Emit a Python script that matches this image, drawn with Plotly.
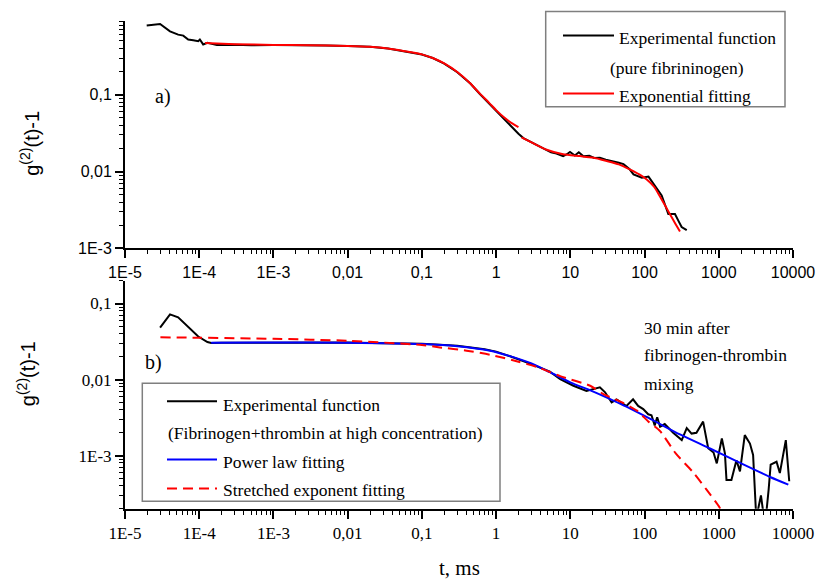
import plotly.graph_objects as go

# ---------------- data ----------------
# panel a) pure fibrinogen
t_a_exp = [1.96e-5, 2.97e-5, 4.04e-5, 5.2e-5, 6.1e-5, 7.1e-5, 8.3e-5, 9.7e-5, 1.02e-4, 1.13e-4,
           1.29e-4, 1.73e-4, 3e-4, 5e-4, 1e-3, 2e-3, 5e-3, 0.01, 0.02, 0.035, 0.05, 0.075, 0.1,
           0.14, 0.2, 0.3, 0.45, 0.6, 0.8, 1.0, 1.3, 1.6, 2.0, 2.33, 3.16, 4.8, 5.5, 6.5, 8.0, 9.0,
           9.9, 11.5, 13, 15, 18, 21, 25, 30, 38, 45, 52, 63, 71, 92, 113, 146, 170, 209, 257,
           285, 316, 370]
g_a_exp = [0.797, 0.83, 0.667, 0.605, 0.587, 0.522, 0.512, 0.497, 0.522, 0.451,
           0.474, 0.442, 0.448, 0.44, 0.443, 0.436, 0.436, 0.43, 0.42, 0.40, 0.376, 0.354, 0.334,
           0.30, 0.254, 0.196, 0.14, 0.103, 0.077, 0.061, 0.047, 0.039, 0.031, 0.0273, 0.0235,
           0.0188, 0.0178, 0.0172, 0.0159, 0.0168, 0.018, 0.0162, 0.0178, 0.0158, 0.0160, 0.0150,
           0.0151, 0.0143, 0.0137, 0.0130, 0.0125, 0.0107, 0.0092, 0.0083, 0.0086, 0.0059, 0.0049,
           0.0028, 0.0028, 0.0023, 0.0019, 0.00173]

t_a_fit1 = [1.2e-4, 3e-4, 1e-3, 3e-3, 0.01, 0.02, 0.035, 0.05, 0.075, 0.1, 0.14, 0.2, 0.3, 0.45,
            0.6, 0.8, 1.0, 1.3, 1.6, 2.0]
g_a_fit1 = [0.47, 0.455, 0.445, 0.44, 0.43, 0.42, 0.40, 0.378, 0.355, 0.335, 0.30, 0.255, 0.197,
            0.14, 0.104, 0.079, 0.063, 0.05, 0.043, 0.038]

t_a_fit2 = [2.2, 3, 4.8, 8, 13.5, 20, 31, 45, 63, 85, 107, 135, 162, 190, 219, 260, 300]
g_a_fit2 = [0.0279, 0.024, 0.0192, 0.0168, 0.0159, 0.0152, 0.0137, 0.0124, 0.0107, 0.0092,
            0.0079, 0.0063, 0.0047, 0.0036, 0.0028, 0.0021, 0.00166]

# panel b) fibrinogen + thrombin
t_b_exp = [2.97e-5, 4.04e-5, 5.2e-5, 9.7e-5, 1.29e-4, 1.45e-4, 2e-4, 5e-4, 1e-3, 3e-3, 0.01, 0.03,
           0.1, 0.3, 0.7, 1.0, 1.54, 2.86, 5.3, 7.3, 8.9, 11, 16.5, 20.4, 25, 29.4, 36, 42, 49,
           57, 70, 82, 96, 112, 124, 137, 148, 162, 187, 243, 317, 370, 430, 500, 615, 720, 850,
           940, 1100, 1210, 1270, 1480, 1730, 1930, 2240, 2630, 2900, 3200, 3700, 4200, 4700,
           5000, 6000, 6650, 8000, 8900]
g_b_exp = [0.0482, 0.072, 0.0658, 0.0368, 0.0312, 0.0302, 0.0304, 0.0305, 0.031, 0.0308, 0.0308, 0.030,
           0.0295, 0.0278, 0.0250, 0.0233, 0.0203, 0.0162, 0.0127, 0.0101, 0.0091, 0.0083, 0.0071, 0.0075,
           0.0079, 0.0068, 0.0050, 0.0055, 0.0050, 0.0045, 0.0055, 0.0045, 0.0041, 0.0035, 0.0034,
           0.0025, 0.0032, 0.0024, 0.0026, 0.0020, 0.0016, 0.0023, 0.00195, 0.0020, 0.0028, 0.00125,
           0.0011, 0.00079, 0.00168, 0.00107, 0.00048, 0.00048, 0.00087, 0.00062, 0.00186, 0.00144,
           0.00102, 0.00015, 0.0003, 0.00012, 0.00036, 0.00076, 0.00083, 0.00059, 0.0016, 0.00046]

t_b_pow = [1.45e-4, 1e-3, 0.01, 0.1, 0.3, 0.83, 1.5, 3, 5.3, 10, 20, 38, 57, 131, 300, 762, 2000, 5000, 8650]
g_b_pow = [0.0305, 0.0308, 0.0305, 0.0293, 0.0275, 0.024, 0.0205, 0.0163, 0.0125, 0.0092, 0.0070,
           0.0053, 0.0044, 0.0029, 0.0019, 0.00124, 0.00079, 0.00052, 0.000415]

t_b_str = [3e-5, 1e-4, 1e-3, 0.01, 0.1, 0.175, 0.4, 0.83, 2, 3.8, 7.3, 18.5, 27.5, 50, 79, 113, 162,
           263, 460, 680, 1020, 1150]
g_b_str = [0.036, 0.0355, 0.0344, 0.0324, 0.0285, 0.0265, 0.024, 0.0212, 0.0172, 0.0143, 0.0111,
           0.0083, 0.0065, 0.0050, 0.0039, 0.0028, 0.0021, 0.00107, 0.00059, 0.00036, 0.00021, 0.00017]

x_tickvals = [1e-5, 1e-4, 1e-3, 1e-2, 1e-1, 1, 10, 100, 1000, 10000]
x_ticktext = ["1E-5", "1E-4", "1E-3", "0,01", "0,1", "1", "10", "100", "1000", "10000"]
y_tickvals = [1e-3, 1e-2, 1e-1]
y_ticktext = ["1E-3", "0,01", "0,1"]

# ---------------- layout helpers ----------------
W, H = 819, 588
L, R = 125, 26
PW = W - L - R


def px(x):
    return (x - L) / PW


def py(y):
    return 1 - y / H


SANS = "Liberation Sans"
SERIF = "Liberation Serif"

minor_x = [m * 10 ** e for e in range(-5, 4) for m in range(2, 10)]
minor_y = [m * 10 ** e for e in range(-4, 0) for m in range(2, 10)]

fig = go.Figure()
fig.add_trace(go.Scatter(x=t_a_exp, y=g_a_exp, mode="lines", line=dict(color="black", width=2),
                         xaxis="x", yaxis="y", showlegend=False))
fig.add_trace(go.Scatter(x=t_a_fit1, y=g_a_fit1, mode="lines", line=dict(color="#ff0000", width=2, shape="spline", smoothing=0.6),
                         xaxis="x", yaxis="y", showlegend=False))
fig.add_trace(go.Scatter(x=t_a_fit2, y=g_a_fit2, mode="lines", line=dict(color="#ff0000", width=2, shape="spline", smoothing=0.6),
                         xaxis="x", yaxis="y", showlegend=False))
fig.add_trace(go.Scatter(x=t_b_exp, y=g_b_exp, mode="lines", line=dict(color="black", width=2),
                         xaxis="x2", yaxis="y2", showlegend=False))
fig.add_trace(go.Scatter(x=t_b_pow, y=g_b_pow, mode="lines", line=dict(color="#0000ff", width=2, shape="spline", smoothing=0.6),
                         xaxis="x2", yaxis="y2", showlegend=False))
fig.add_trace(go.Scatter(x=t_b_str, y=g_b_str, mode="lines",
                         line=dict(color="#ff0000", width=2, dash="10px,6px", shape="spline", smoothing=0.6),
                         xaxis="x2", yaxis="y2", showlegend=False))


def xax(font, anchor):
    return dict(type="log", range=[-5, 4], domain=[0, 1], anchor=anchor,
                tickmode="array", tickvals=x_tickvals, ticktext=x_ticktext,
                ticks="outside", ticklen=8, tickwidth=1.5, tickcolor="black",
                minor=dict(tickmode="array", tickvals=minor_x, ticks="outside", ticklen=4,
                           tickwidth=1.2, tickcolor="black", showgrid=False),
                showline=True, linecolor="black", linewidth=2, showgrid=False, zeroline=False,
                tickfont=font)


def yax(font, rng, dom, anchor):
    return dict(type="log", range=rng, domain=dom, anchor=anchor,
                tickmode="array", tickvals=y_tickvals, ticktext=y_ticktext,
                ticks="outside", ticklen=8, tickwidth=1.5, tickcolor="black",
                minor=dict(tickmode="array", tickvals=minor_y, ticks="outside", ticklen=4,
                           tickwidth=1.2, tickcolor="black", showgrid=False),
                showline=True, linecolor="black", linewidth=2, showgrid=False, zeroline=False,
                tickfont=font)


font_sans = dict(family=SANS, size=16, color="black")
font_serif = dict(family=SERIF, size=17, color="black")

fig.update_layout(
    width=W, height=H, margin=dict(l=L, r=R, t=0, b=0),
    paper_bgcolor="white", plot_bgcolor="white",
    showlegend=False,
    font=dict(family=SERIF),
    xaxis=xax(font_sans, "y"),
    yaxis=yax(font_sans, [-3, -0.0458], [py(252.3), py(21.7)], "x"),
    xaxis2=xax(font_serif, "y2"),
    yaxis2=yax(font_serif, [-3.699, -0.699], [py(516.7), py(285)], "x2"),
)

ann = []
shapes = []
LEG = dict(family=SERIF, size=17.5, color="black")


def text(x, y, s, font, xanchor="left", angle=0):
    ann.append(dict(x=px(x), y=py(y), xref="paper", yref="paper", text=s, showarrow=False,
                    xanchor=xanchor, yanchor="middle", font=font, textangle=angle))


def seg(x0, x1, y, color, dash="solid"):
    shapes.append(dict(type="line", xref="paper", yref="paper", x0=px(x0), x1=px(x1),
                       y0=py(y), y1=py(y), line=dict(color=color, width=2, dash=dash)))


def box(x0, y0, x1, y1):
    shapes.append(dict(type="rect", xref="paper", yref="paper", x0=px(x0), x1=px(x1),
                       y0=py(y1), y1=py(y0), line=dict(color="#7f7f7f", width=1.5),
                       fillcolor="white", layer="above"))


# y titles
TITLE = dict(family=SANS, size=20, color="black")
text(30, 145, "g<sup>(2)</sup>(t)-1", TITLE, xanchor="center", angle=-90)
text(26, 380, "g<sup>(2)</sup>(t)-1", TITLE, xanchor="center", angle=-90)
# x title
text(459, 577, "t, ms", dict(family=SERIF, size=21, color="black"), xanchor="center")

# panel labels
text(163, 98, "a)", dict(family=SERIF, size=20, color="black"), xanchor="center")
text(153, 368, "b)", dict(family=SERIF, size=20, color="black"), xanchor="center")

# annotation text
text(642, 333, "30 min after", LEG)
text(642, 361, "fibrinogen-thrombin", LEG)
text(642, 390, "mixing", LEG)

# legend a
box(545.7, 11.7, 785, 108.3)
seg(563, 614, 36, "black")
text(617, 39, "Experimental function", LEG)
text(608, 69, "(pure fibrininogen)", LEG)
seg(563, 614, 95, "#ff0000")
text(617, 97, "Exponential fitting", LEG)

# legend b
box(142.3, 389.3, 500, 509)
seg(167, 217, 407.5, "black")
text(221, 411, "Experimental function", LEG)
text(166, 440, "(Fibrinogen+thrombin at high concentration)", LEG)
seg(167, 217, 466.7, "#0000ff")
text(221, 469, "Power law fitting", LEG)
seg(167, 217, 496, "#ff0000", dash="10px,6px")
text(221, 498, "Stretched exponent fitting", LEG)

fig.update_layout(annotations=ann, shapes=shapes)
fig.write_html("out.html")
